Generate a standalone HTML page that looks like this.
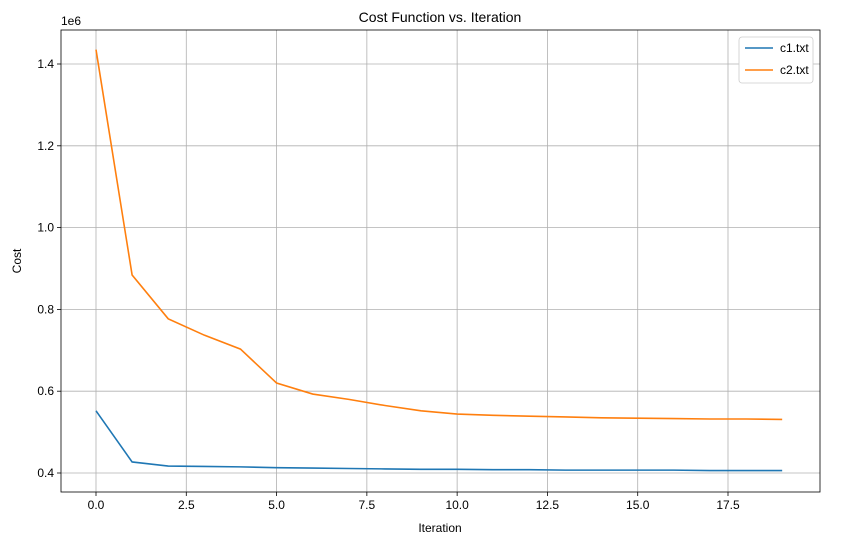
<!DOCTYPE html>
<html><head><meta charset="utf-8"><style>
body{margin:0;background:#fff;font-family:"Liberation Sans","DejaVu Sans",sans-serif;}
svg text{font-family:"Liberation Sans","DejaVu Sans",sans-serif;}
</style></head><body>
<svg id="chart" width="846" height="545" xmlns="http://www.w3.org/2000/svg"></svg>
<script>
const iterations=[0,1,2,3,4,5,6,7,8,9,10,11,12,13,14,15,16,17,18,19];
const c1Values=[0.552,0.427,0.417,0.416,0.415,0.413,0.412,0.411,0.410,0.409,0.409,0.408,0.408,0.407,0.407,0.407,0.407,0.406,0.406,0.406];
const c2Values=[1.435,0.884,0.777,0.737,0.703,0.620,0.593,0.580,0.565,0.552,0.544,0.541,0.539,0.537,0.535,0.534,0.533,0.532,0.532,0.531];
const xTicks=[0,2.5,5,7.5,10,12.5,15,17.5];
const xTickLabels=["0.0","2.5","5.0","7.5","10.0","12.5","15.0","17.5"];
const yTicks=[0.4,0.6,0.8,1.0,1.2,1.4];
const yTickLabels=["0.4","0.6","0.8","1.0","1.2","1.4"];
const L=61,R=820,T=30,B=492;
const X=v=>96+v*(728-96)/17.5;
const Y=v=>473-(v-0.4)*409;
const svg=document.getElementById('chart');
const NS='http://www.w3.org/2000/svg';
function mk(tag,attrs,parent){const e=document.createElementNS(NS,tag);for(const k in attrs)e.setAttribute(k,attrs[k]);(parent||svg).appendChild(e);return e;}
xTicks.forEach((t,i)=>{
 const g=mk('line',{x1:X(t),x2:X(t),y1:T,y2:B,stroke:'#b0b0b0','stroke-width':0.8});
 
 
 mk('line',{x1:X(t),x2:X(t),y1:B,y2:B+4,stroke:'#000','stroke-width':0.8});
 const tx=mk('text',{x:X(t),y:B+17,'text-anchor':'middle','font-size':12});
 tx.textContent=xTickLabels[i];
 
 
});
yTicks.forEach((t,i)=>{
 const g=mk('line',{x1:L,x2:R,y1:Y(t),y2:Y(t),stroke:'#b0b0b0','stroke-width':0.8});
 
 
 mk('line',{x1:L-4,x2:L,y1:Y(t),y2:Y(t),stroke:'#000','stroke-width':0.8});
 const tx=mk('text',{x:L-7,y:Y(t)+4,'text-anchor':'end','font-size':12});
 tx.textContent=yTickLabels[i];
 
 
});
function series(vals,color,name){
 const p=mk('polyline',{points:vals.map((v,i)=>X(iterations[i])+','+Y(v)).join(' '),fill:'none',stroke:color,'stroke-width':1.6});
 
 
}
series(c1Values,'#1f77b4','c1-line');
series(c2Values,'#ff7f0e','c2-line');
const frame=mk('rect',{x:L,y:T,width:R-L,height:B-T,fill:'none',stroke:'#000','stroke-width':0.8});


</script>
<svg style="position:absolute;left:0;top:0" width="846" height="545" xmlns="http://www.w3.org/2000/svg">
<text x="440" y="22" text-anchor="middle" font-size="14">Cost Function vs. Iteration</text>
<text x="440" y="532" text-anchor="middle" font-size="12">Iteration</text>
<text x="21" y="261" text-anchor="middle" font-size="12" transform="rotate(-90 21 261)">Cost</text>
<text x="61" y="25" font-size="12">1e6</text>
<g>
<rect x="739" y="37" width="74" height="46" rx="3" fill="#fff" stroke="#ccc" stroke-width="0.8"/>
<line x1="745" y1="48" x2="773" y2="48" stroke="#1f77b4" stroke-width="1.6"/>
<text x="780" y="52" font-size="12">c1.txt</text>
<line x1="745" y1="70" x2="773" y2="70" stroke="#ff7f0e" stroke-width="1.6"/>
<text x="780" y="74" font-size="12">c2.txt</text>
</g>
</svg>
</body></html>
